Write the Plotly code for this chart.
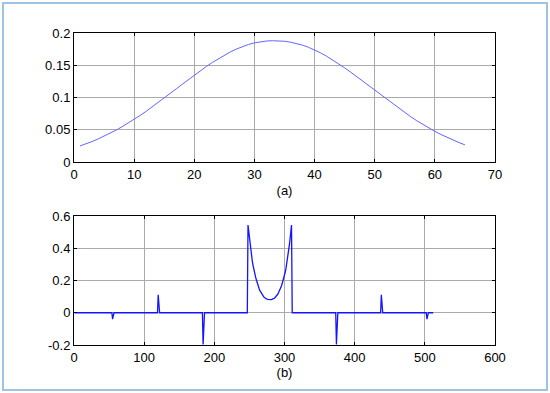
import plotly.graph_objects as go
from plotly.subplots import make_subplots

# ---- data: panel (a) ----
a_x = list(range(1, 66))
a_y = [0.0249, 0.0281, 0.0317, 0.0357, 0.0399, 0.0445, 0.0494, 0.0547, 0.0602, 0.0661,
       0.0722, 0.0786, 0.0853, 0.0921, 0.0991, 0.1062, 0.1134, 0.1205, 0.1276, 0.1346,
       0.1414, 0.1480, 0.1543, 0.1602, 0.1657, 0.1707, 0.1751, 0.1789, 0.1822, 0.1847,
       0.1865, 0.1876, 0.1880, 0.1879, 0.1872, 0.1858, 0.1838, 0.1812, 0.1778, 0.1738,
       0.1692, 0.1640, 0.1584, 0.1524, 0.1460, 0.1393, 0.1324, 0.1254, 0.1183, 0.1111,
       0.1040, 0.0969, 0.0899, 0.0831, 0.0765, 0.0701, 0.0640, 0.0582, 0.0527, 0.0475,
       0.0427, 0.0382, 0.0340, 0.0302, 0.0266]

# ---- data: panel (b) ----
b_n = 512
b_spike_idx = [55, 120, 184, 374, 438, 503]
b_spike_val = [-0.04, 0.112, -0.197, -0.197, 0.112, -0.04]
b_hump_start = 248
b_hump_val = [0.544, 0.500, 0.460, 0.422, 0.385, 0.352, 0.324, 0.297, 0.272, 0.251,
              0.234, 0.218, 0.203, 0.185, 0.171, 0.159, 0.147, 0.137, 0.128, 0.120,
              0.113, 0.107, 0.101, 0.096, 0.092, 0.089, 0.086, 0.084, 0.083, 0.082,
              0.081, 0.081,
              0.081, 0.082, 0.083, 0.084, 0.086, 0.089, 0.092, 0.096, 0.101, 0.107,
              0.113, 0.120, 0.128, 0.137, 0.147, 0.159, 0.171, 0.185, 0.203, 0.218,
              0.234, 0.251, 0.272, 0.297, 0.324, 0.352, 0.385, 0.422, 0.460, 0.500,
              0.544]

b_x = list(range(1, b_n + 1))
b_y = [0.0] * b_n
for i, v in zip(b_spike_idx, b_spike_val):
    b_y[i - 1] = v
for k, v in enumerate(b_hump_val):
    b_y[b_hump_start - 1 + k] = v

# ---- figure ----
L, R, T, B = 74, 55, 33, 48
W, H = 550, 393
ph = H - T - B
pw = W - L - R
top_lo = (H - B - 162) / ph
bot_hi = (H - B - 216) / ph

fig = make_subplots(rows=2, cols=1)
fig.add_trace(go.Scatter(x=a_x, y=a_y, mode="lines",
                         line=dict(color="rgb(100,100,255)", width=1)), row=1, col=1)
fig.add_trace(go.Scatter(x=b_x, y=b_y, mode="lines",
                         line=dict(color="rgb(20,20,255)", width=1.3)), row=2, col=1)

font = dict(family="Liberation Sans, Arial, sans-serif", size=13, color="black")
axcommon = dict(showline=True, linecolor="black", linewidth=1, mirror="ticks",
                ticks="inside", ticklen=3, tickcolor="black",
                showgrid=True, gridcolor="rgb(170,170,170)", gridwidth=1,
                zeroline=False, tickfont=font, automargin=False)

fig.update_xaxes(range=[0, 70], tickvals=[0, 10, 20, 30, 40, 50, 60, 70],
                 domain=[0, 1], title=dict(text="(a)", font=font, standoff=5),
                 **axcommon, row=1, col=1)
fig.update_yaxes(range=[0, 0.2], tickvals=[0, 0.05, 0.1, 0.15, 0.2],
                 ticktext=["0", "0.05", "0.1", "0.15", "0.2"],
                 domain=[top_lo, 1], **axcommon, row=1, col=1)
fig.update_xaxes(range=[0, 600], tickvals=[0, 100, 200, 300, 400, 500, 600],
                 domain=[0, 1], title=dict(text="(b)", font=font, standoff=1),
                 **axcommon, row=2, col=1)
fig.update_yaxes(range=[-0.2, 0.6], tickvals=[-0.2, 0, 0.2, 0.4, 0.6],
                 ticktext=["-0.2", "0", "0.2", "0.4", "0.6"],
                 domain=[0, bot_hi], **axcommon, row=2, col=1)

# outer light-blue frame
fig.add_shape(type="rect", xref="paper", yref="paper",
              x0=(3 - L) / pw, x1=(547 - L) / pw,
              y0=(H - B - 390) / ph, y1=(H - B - 3) / ph,
              line=dict(color="rgb(157,195,230)", width=2))

fig.update_layout(width=W, height=H, margin=dict(l=L, r=R, t=T, b=B, autoexpand=False),
                  paper_bgcolor="white", plot_bgcolor="white",
                  showlegend=False, font=font)

fig.write_html("out.html", config={"displayModeBar": False},
               post_script="document.body.style.margin='0';document.body.style.padding='0';")
